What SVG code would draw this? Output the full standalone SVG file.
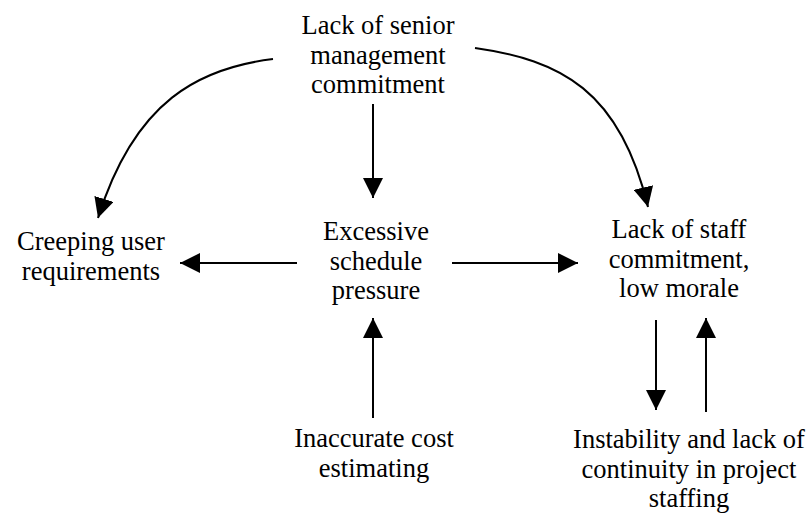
<svg xmlns="http://www.w3.org/2000/svg" width="810" height="515" viewBox="0 0 810 515">
  <style>
    .lbl { font-family: "Liberation Serif", "Times New Roman", serif; font-size: 26.5px; fill: #000; text-anchor: middle; }
    .edge { fill: none; stroke: #000; stroke-width: 2; }
  </style>
  <defs>
    <marker id="arrow" markerUnits="userSpaceOnUse" markerWidth="21" markerHeight="20" refX="20" refY="10" orient="auto">
      <path d="M0,0 L20,10 L0,20 Z" fill="#000"/>
    </marker>
  </defs>
  <rect width="810" height="515" fill="#fff"/>

  <g id="senior-mgmt">
    <text class="lbl" x="378" y="34">Lack of senior</text>
    <text class="lbl" x="378" y="63.5">management</text>
    <text class="lbl" x="378" y="93">commitment</text>
  </g>
  <g id="creeping-reqs">
    <text class="lbl" x="91" y="250">Creeping user</text>
    <text class="lbl" x="91" y="279.5">requirements</text>
  </g>
  <g id="schedule-pressure">
    <text class="lbl" x="376" y="240">Excessive</text>
    <text class="lbl" x="376" y="269.5">schedule</text>
    <text class="lbl" x="376" y="299">pressure</text>
  </g>
  <g id="staff-morale">
    <text class="lbl" x="679" y="238">Lack of staff</text>
    <text class="lbl" x="679" y="267.5">commitment,</text>
    <text class="lbl" x="679" y="297">low morale</text>
  </g>
  <g id="cost-estimating">
    <text class="lbl" x="374" y="447">Inaccurate cost</text>
    <text class="lbl" x="374" y="476.5">estimating</text>
  </g>
  <g id="staffing-instability">
    <text class="lbl" x="689" y="448">Instability and lack of</text>
    <text class="lbl" x="689" y="477.5">continuity in project</text>
    <text class="lbl" x="689" y="507">staffing</text>
  </g>

  <g id="connectors">
    <path class="edge" d="M273,59 C200,68 135,100 98,218" marker-end="url(#arrow)"/>
    <path class="edge" d="M475,48 C560,60 620,90 648,207" marker-end="url(#arrow)"/>
    <path class="edge" d="M373,104 L373,198" marker-end="url(#arrow)"/>
    <path class="edge" d="M297,263 L180,263" marker-end="url(#arrow)"/>
    <path class="edge" d="M452,263 L578,263" marker-end="url(#arrow)"/>
    <path class="edge" d="M373,418 L373,318" marker-end="url(#arrow)"/>
    <path class="edge" d="M656,320 L656,410" marker-end="url(#arrow)"/>
    <path class="edge" d="M706,412 L706,318" marker-end="url(#arrow)"/>
  </g>
</svg>
